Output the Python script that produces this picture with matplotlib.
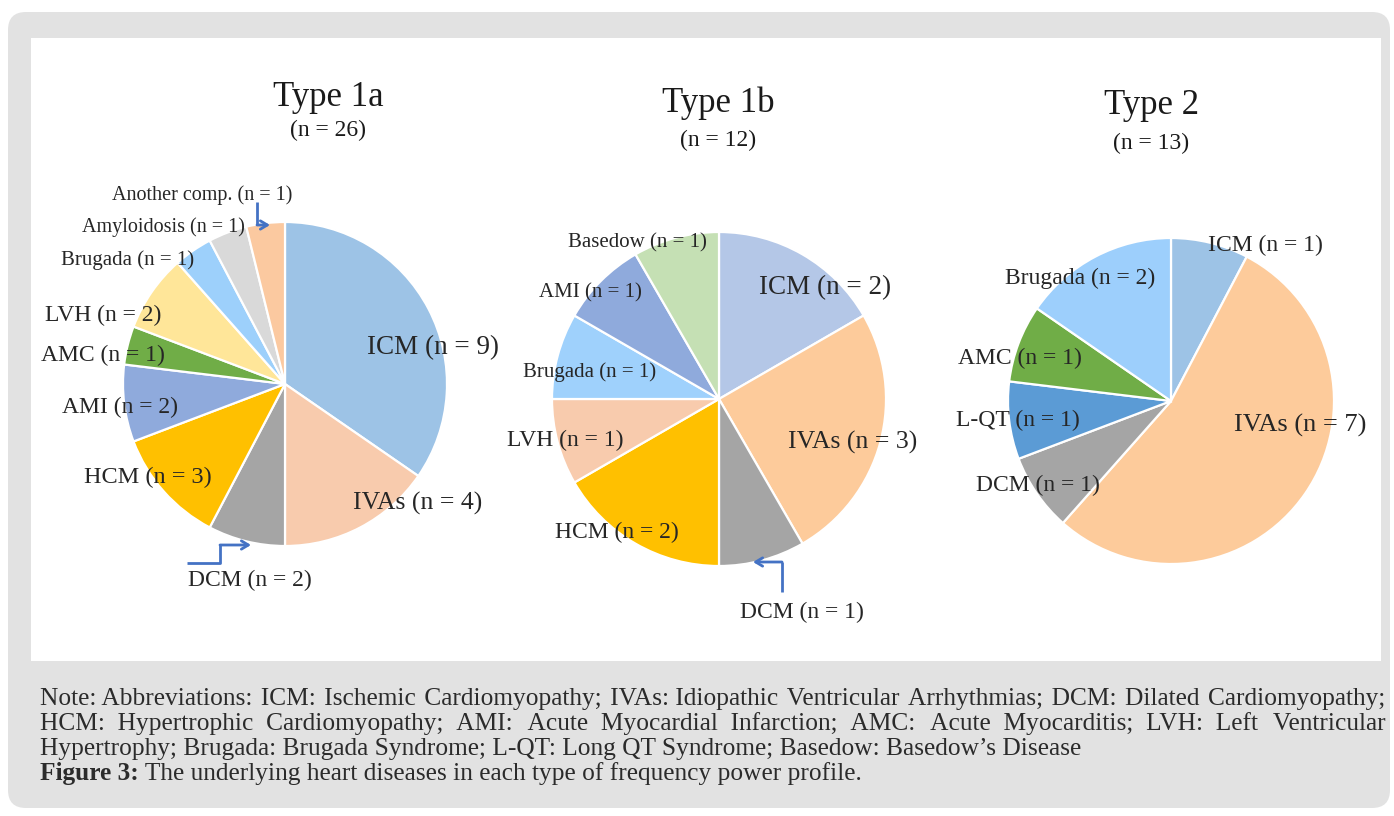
import matplotlib
matplotlib.use("Agg")
import matplotlib.pyplot as plt
from matplotlib.patches import FancyBboxPatch, Rectangle

W, H = 1394, 816

# Underlying diseases per frequency power profile
t1a_names = ["ICM", "IVAs", "DCM", "HCM", "AMI", "AMC", "LVH", "Brugada",
             "Amyloidosis", "Another comp."]
t1a_counts = [9, 4, 2, 3, 2, 1, 2, 1, 1, 1]

t1b_names = ["ICM", "IVAs", "DCM", "HCM", "LVH", "Brugada", "AMI", "Basedow"]
t1b_counts = [2, 3, 1, 2, 1, 1, 1, 1]

t2_names = ["ICM", "IVAs", "DCM", "L-QT", "AMC", "Brugada"]
t2_counts = [1, 7, 1, 1, 1, 2]

titles = ["Type 1a", "Type 1b", "Type 2"]

note_lines = [
    "Note: Abbreviations: ICM: Ischemic Cardiomyopathy; IVAs: Idiopathic Ventricular Arrhythmias; DCM: Dilated Cardiomyopathy;",
    "HCM: Hypertrophic Cardiomyopathy; AMI: Acute Myocardial Infarction; AMC: Acute Myocarditis; LVH: Left Ventricular",
    "Hypertrophy; Brugada: Brugada Syndrome; L-QT: Long QT Syndrome; Basedow: Basedow\u2019s Disease",
]
caption_bold = "Figure 3:"
caption_rest = " The underlying heart diseases in each type of frequency power profile."

# colours
t1a_colors = ["#9dc3e6", "#f8cbad", "#a5a5a5", "#ffc000", "#8faadc", "#70ad47",
              "#ffe699", "#9dd0fb", "#d9d9d9", "#fbc9a0"]
t1b_colors = ["#b4c7e7", "#fdcb9b", "#a5a5a5", "#ffc000", "#f8cbad", "#9fd1fc",
              "#8faadc", "#c5e0b4"]
t2_colors = ["#9dc3e6", "#fdcb9b", "#a5a5a5", "#5b9bd5", "#70ad47", "#9dcffc"]
arrow_col = "#4472c4"

SERIF = ["Liberation Serif", "DejaVu Serif"]

# pie layout in pixels: centre x, centre y (from top), radius
pies = [
    dict(names=t1a_names, counts=t1a_counts, colors=t1a_colors, c=(285, 384), r=162,
         title=(328, 97), sub=(328, 130),
         labels=[(433, 348, 19.5), (418, 503, 18.5), (250, 580, 17), (148, 477, 17.5),
                 (120, 407, 17), (103, 355, 17), (103, 315, 17), (128, 260, 15),
                 (163, 227, 14.5), (202, 195, 14.5)]),
    dict(names=t1b_names, counts=t1b_counts, colors=t1b_colors, c=(719, 399), r=167,
         title=(718, 103), sub=(718, 140),
         labels=[(825, 288, 19.5), (853, 442, 18.5), (802, 612, 17), (617, 532, 17),
                 (565, 440, 17), (590, 372, 15), (590, 293, 15), (637, 243, 15)]),
    dict(names=t2_names, counts=t2_counts, colors=t2_colors, c=(1171, 401), r=163,
         title=(1151, 106), sub=(1151, 143),
         labels=[(1265, 245, 17), (1300, 425, 19), (1038, 485, 17), (1018, 420, 17),
                 (1020, 358, 17), (1080, 278, 17)]),
]

fig = plt.figure(figsize=(W / 100, H / 100), dpi=100)
fig.patch.set_facecolor("white")
ax = fig.add_axes([0, 0, 1, 1])


def Y(py):
    return H - py


# grey card and white plotting panel
ax.add_patch(FancyBboxPatch((8, Y(808)), 1382, 796,
                            boxstyle="round,pad=0,rounding_size=18",
                            fc="#e2e2e2", ec="none", zorder=0))
ax.add_patch(Rectangle((31, Y(661)), 1350, 623, fc="white", ec="none", zorder=0))

for p, title in zip(pies, titles):
    cx, cy = p["c"]
    ax.pie(p["counts"], colors=p["colors"], startangle=90, counterclock=False,
           center=(cx, Y(cy)), radius=p["r"], frame=True,
           wedgeprops=dict(edgecolor="white", linewidth=1.6))
    ax.text(p["title"][0], Y(p["title"][1]), title, fontsize=25, family=SERIF,
            color="#1a1a1a", ha="center", va="center")
    ax.text(p["sub"][0], Y(p["sub"][1]), "(n = %d)" % sum(p["counts"]), fontsize=17,
            family=SERIF, color="#1a1a1a", ha="center", va="center")
    for name, n, (lx, ly, fs) in zip(p["names"], p["counts"], p["labels"]):
        ax.text(lx, Y(ly), "%s (n = %d)" % (name, n), fontsize=fs, family=SERIF,
                color="#262626", ha="center", va="center")

# elbow leader arrows
def leader(pts):
    xs = [q[0] for q in pts]
    ys = [Y(q[1]) for q in pts]
    ax.plot(xs[:-1], ys[:-1], color=arrow_col, lw=2, solid_capstyle="butt", zorder=5)
    ax.annotate("", xy=(xs[-1], ys[-1]), xytext=(xs[-2], ys[-2]),
                arrowprops=dict(arrowstyle="->,head_length=0.5,head_width=0.3",
                                color=arrow_col, lw=2, shrinkA=0, shrinkB=0), zorder=5)

leader([(187, 563), (220, 563), (220, 545), (251, 545)])
leader([(257, 202), (257, 225), (270, 225)])
leader([(782, 592), (782, 562), (753, 562)])

ax.set_xlim(0, W)
ax.set_ylim(0, H)
ax.set_aspect("auto")
ax.axis("off")

# footnote; the first two lines are justified by padding the gaps with hair spaces
fig.canvas.draw()
rend = fig.canvas.get_renderer()


def width(s, fs, weight="normal"):
    t = ax.text(0, 0, s, fontsize=fs, family=SERIF, weight=weight)
    w = t.get_window_extent(rend).width
    t.remove()
    return w


HAIR = "\u200a"


def pad_gaps(words, total):
    gaps = len(words) - 1
    out = words[0]
    for k, w in enumerate(words[1:]):
        n = total * (k + 1) // gaps - total * k // gaps
        out += " " + HAIR * n + w
    return out


def justified(line, fs, target):
    words = line.split(" ")
    base = width(line, fs)
    probe = 100
    step = (width(pad_gaps(words, probe), fs) - base) / probe
    if step <= 0:
        return line
    total = max(0, int((target - base) / step))
    # trim until the padded line fits
    while total > 0 and width(pad_gaps(words, total), fs) > target:
        total -= 1
    return pad_gaps(words, total)


fs_note = 10 * 1043 / width(note_lines[2], 10)
x0, x1 = 40, 1386
baselines = [705, 730, 755, 780]
note_col = "#2b2b2b"
for i, line in enumerate(note_lines):
    s = justified(line, fs_note, x1 - x0) if i < 2 else line
    ax.text(x0, Y(baselines[i]), s, fontsize=fs_note, family=SERIF,
            color=note_col, va="baseline", ha="left")

bw = width(caption_bold, fs_note, "bold")
ax.text(x0, Y(baselines[3]), caption_bold, fontsize=fs_note, family=SERIF,
        weight="bold", color=note_col, va="baseline", ha="left")
ax.text(x0 + bw, Y(baselines[3]), caption_rest, fontsize=fs_note, family=SERIF,
        color=note_col, va="baseline", ha="left")

fig.savefig("out.png", dpi=100)
